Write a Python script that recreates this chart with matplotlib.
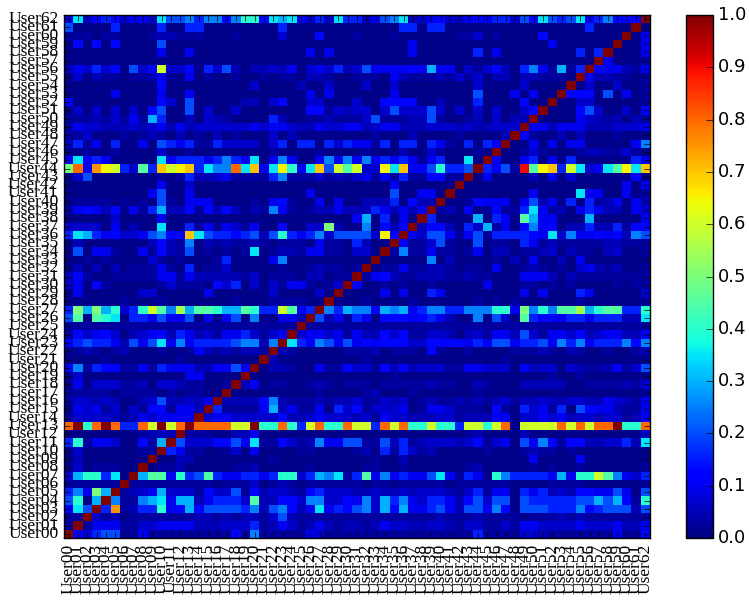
import matplotlib
matplotlib.use("Agg")
import matplotlib.pyplot as plt
import numpy as np

# Each character is one cell's estimated value, looked up in level_values.
level_codes = "0123456789abcdefghijkX"
level_values = [0.01, 0.03, 0.05, 0.07, 0.10, 0.13, 0.16, 0.20, 0.25, 0.30, 0.35,
                0.40, 0.45, 0.50, 0.55, 0.60, 0.65, 0.70, 0.75, 0.80, 0.90, 1.00]

users = [f"User{i:02d}" for i in range(63)]

# rows listed from User00 (bottom) to User62 (top); columns User00..User62
rows = [
"X436771141 1111111151 8111114311 1111111111 1111611113 3211111114 115",
"1X14441133 4444222333 6124312421 2212433223 3213311314 4333343334 224",
"11X3120111 1111221212 2137211111 1111111111 2111211110 1112121111 111",
"4a7X6i1266 b459577776 8278524a46 5783959446 7427748507 7766685677 727",
"7b09X81189 a499246663 c225538833 5483968436 6425737707 6666677979 51b",
"684d9X1234 9333153371 5233215633 3223223233 3213614406 4623255447 407",
"111111X111 1111110111 3012101111 1101101111 1011111100 0011110000 001",
"39bb6a0X9c c4b67c6446 646bb3698a 16c4846447 a41640b866 66494bbfc8 436",
"03011100X0 1120000011 2000001000 0011001000 0001200000 1010010000 001",
"020000000X 0022000000 0010000000 0001002000 0000000000 4000040000 000",
"0300000011 X641100130 4000011000 0120616312 0000010001 2110100000 000",
"6b14430051 9X73335574 a115312844 7711726123 3323513407 4851552233 62a",
"0000000012 22X1110022 4000000000 0000000000 0001200002 0000000000 003",
"jXbjXj66jf XfjXjjjjff Xbbjb6fjbb jff6jfjbbf bb6ffbfj0f fffjfjfjjX bbj",
"1333321243 4444X34433 3335223433 3231433222 3312224403 3434233233 124",
"0434130315 51442X6111 1492411406 3513334014 4311105106 3416075442 114",
"1332320023 722324X222 2582111212 2311323012 1121212312 2322332243 214",
"1111101111 0101100X00 0000000100 0012000100 0000100000 0000000000 001",
"0403331120 33211001X2 4011001210 1110111112 1100210002 2222001111 213",
"0300000000 000440000X 0000000000 0000010000 0000000000 0010010000 000",
"4816551141 6444224474 X022100411 5331525233 3114433304 2330321124 137",
"0000100000 0010000000 0X20000000 0010000000 0000000100 0000000000 000",
"0121012000 1001421212 21X2100000 1112011105 1001000011 1210210010 012",
"4676642747 a484666678 828Xa64874 7454555335 5554647746 6748684666 858",
"1534530234 5264231446 3134X34434 1422535113 3202314427 3144352344 224",
"1111111111 1111111111 11111X1111 1111111111 1111111111 1111111111 111",
"7c0cba0664 7447040470 800442X724 1640555456 420080730c 6554664666 22a",
"6d9d9b36bf c8e9ccb99c b66fc46X86 9884989468 866888bb4d 8b8cce9bcc 66b",
"0000001000 1000000010 00111100X0 0010000100 0000101010 0000010000 001",
"0400000033 0000040000 003000030X 0000404006 4000000004 0400064000 003",
"2405100000 1311105360 3031441013 X400101001 0000040001 1010100001 011",
"2510011111 4414222221 3011102201 1X14521122 2112110004 4420211111 111",
"0202020111 4106011300 0001001211 01X0114112 2101104001 2101034212 001",
"0010100003 1010001600 0048000000 000X000008 0200001020 4002040000 000",
"0704410041 5217010101 a012214411 0330X18114 1101402201 1230211023 001",
"0200000002 5218021211 2101110411 06200X4113 7100701106 4121111122 111",
"6a96453347 855ha76656 727b646837 7773g5X437 7414716666 54a3844545 287",
"3333040200 a006141431 40050033d2 0080524X25 5206391405 8450226226 155",
"0000030000 4000000000 0000000000 04906040X6 000090640c 9440009000 004",
"1454250416 9225152520 2184101224 222642424X 1204015116 a412046422 043",
"0111101010 7104440000 1045100404 0022260522 X001544404 7240606124 042",
"0000000004 7004000000 0000004000 0000070044 0X00000000 40000a4400 401",
"0000000000 4003000000 0000000000 0000040000 00X0000000 0000000000 404",
"0370000000 1016223411 1168111312 1341416115 511X040000 2040300000 050",
"dj4igf63c6 hfgh6a88ja h4agb4ah7f cf33gah447 b667X6471k cgh6fa34ac gah",
"4a46400000 a466646864 a048400484 8484646414 600a0X4004 6040600000 064",
"0010010000 3001000000 0010000100 0010002003 100010X001 3100012211 310",
"2614060040 7646116333 3036066063 6441606606 4106064X00 4040440000 048",
"1130001012 1020102010 0030200000 0001000200 00100002X4 1002020001 000",
"1433222323 4242333333 4344322433 4423442223 332322333X 4424442223 334",
"1112131419 6002032100 0062001121 1137111227 1001203022 X000043212 021",
"0303030305 7007030030 0000005513 2330373337 3030303003 5X00057300 305",
"5000000000 5307000002 2035003300 0300555500 2000600005 00X0033000 001",
"0000040000 4004000000 0000004040 0000040000 0000700040 400X555070 401",
"0000000000 5000000000 3000020030 0030030000 0000300003 0000X03003 001",
"0302110112 4104010010 0101102210 0111042111 2131302202 21110X4221 101",
"2436350735 f335063720 2232403436 2374444549 4403135206 841916X544 214",
"0000000000 0000000000 0000000000 0000000000 0000000000 0000000X40 001",
"0000000000 4004000000 0000004040 0000000400 0000604000 00000606X0 004",
"0505050000 7000000000 0000000000 0000000400 0000000000 004000000X 004",
"1110110001 2211100010 0003000500 0100010000 0011301000 0500000000 X04",
"7000060000 6006600000 0006000000 0000006606 6000000000 0000006000 0X0",
"4a35653443 a77868858b b5a9a4363a 662478a234 5334546637 5a767a4685 55X",
]

lookup = dict(zip(level_codes, level_values))
matrix = np.array([[lookup[ch] for ch in row.replace(" ", "")] for row in rows])
assert matrix.shape == (63, 63), [len(r.replace(" ", "")) for r in rows]

plt.style.use("classic")
fig = plt.figure(figsize=(7.49, 6.03), dpi=100, facecolor="white")
W, H = 749.0, 603.0
ax = fig.add_axes([64 / W, 1 - 538 / H, 586 / W, 523 / H])
mesh = ax.pcolormesh(matrix, cmap="jet", vmin=0, vmax=1, edgecolors="none")
ax.set_xlim(0, 63)
ax.set_ylim(0, 63)
ax.set_xticks(np.arange(63) + 0.5)
ax.set_yticks(np.arange(63) + 0.5)
ax.set_xticklabels(users, rotation=90, family="Liberation Serif", fontsize=12.5)
ax.set_yticklabels(users, family="Liberation Serif", fontsize=12.5)
ax.tick_params(axis="both", direction="in", length=4, pad=4)

cax = fig.add_axes([686 / W, 1 - 538 / H, 26.5 / W, 523 / H])
cbar = fig.colorbar(mesh, cax=cax)
cbar.set_ticks(np.arange(0, 1.01, 0.1))
cbar.ax.tick_params(labelsize=13, direction="in", length=5, right=True, left=False)
for t in cbar.ax.get_yticklabels():
    t.set_family("DejaVu Sans")
fig.savefig("out.png", dpi=100, facecolor="white")
